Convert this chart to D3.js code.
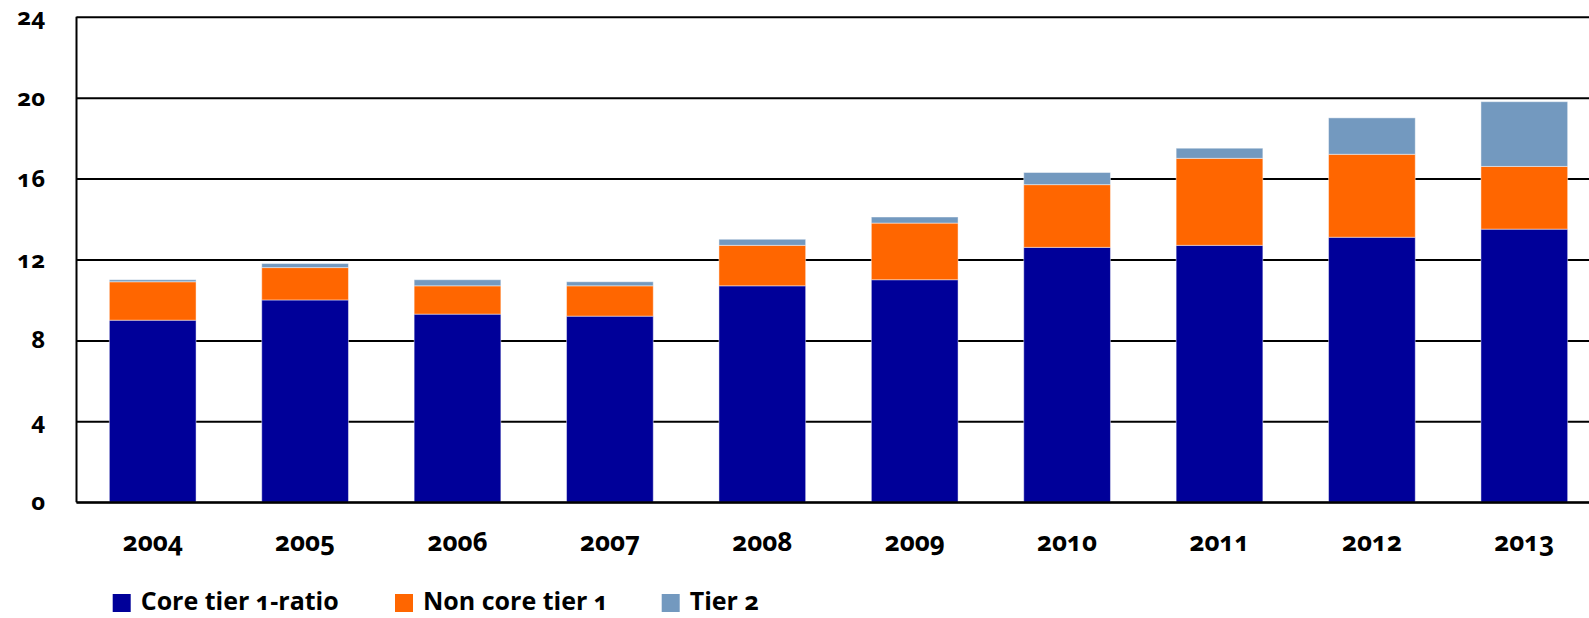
<!DOCTYPE html>
<html>
<head>
<meta charset="utf-8">
<script src="https://cdnjs.cloudflare.com/ajax/libs/d3/7.8.5/d3.min.js"></script>
<style>
  body{margin:0;background:#fff;overflow:hidden;}
  text{font-family:"Open Sans",sans-serif;font-weight:700;fill:#000;font-variant-numeric:oldstyle-nums;}
  .grid line{stroke:#000;stroke-width:2;}
  .grid .domain{display:none;}
</style>
</head>
<body>
<script>

var years = ['2004','2005','2006','2007','2008','2009','2010','2011','2012','2013'];
var coreTier1 = [9.0,10.0,9.3,9.2,10.7,11.0,12.6,12.7,13.1,13.5];
var nonCoreTier1 = [1.9,1.6,1.4,1.5,2.0,2.8,3.1,4.3,4.1,3.1];
var tier2 = [0.1,0.2,0.3,0.2,0.3,0.3,0.6,0.5,1.8,3.2];
var yTicks = [0,4,8,12,16,20,24];
var seriesNames = ['Core tier 1-ratio','Non core tier 1','Tier 2'];
var seriesColors = ['#000099','#ff6600','#7399bf'];

var W = 1589, H = 618;
var x0 = 76.5, x1 = 1600.5, yTop = 16.7, yBottom = 502.3;

var svg = d3.select('body').append('svg')
    .attr('width',W)
    .attr('height',H);

//set scale
var scaleX = d3.scaleBand()
    .domain(years)
    .range([x0,x1])
    .paddingInner(0.431)
    .paddingOuter(0.2155);

var scaleY = d3.scaleLinear()
    .domain([0,24])
    .range([yBottom,yTop]);

//gridlines
var axisGrid = d3.axisLeft()
    .scale(scaleY)
    .tickValues(yTicks)
    .tickSize(-(W - x0 + 5))
    .tickFormat('');

svg.append('g').attr('class','grid')
    .attr('transform','translate(' + x0 + ',0)')
    .call(axisGrid);

//stack data
var table = years.map(function(y,i){
    return {year:y, s0:coreTier1[i], s1:nonCoreTier1[i], s2:tier2[i]};
});
var stack = d3.stack().keys(['s0','s1','s2']);
var layers = stack(table);

svg.selectAll('.layer')
    .data(layers)
    .enter()
    .append('g')
    .attr('class','layer')
    .attr('fill',function(d,i){return seriesColors[i]})
    .selectAll('rect')
    .data(function(d){return d})
    .enter()
    .append('rect')
    .attr('x',function(d){return scaleX(d.data.year)})
    .attr('width',scaleX.bandwidth())
    .attr('y',function(d){return scaleY(d[1])})
    .attr('height',function(d){return scaleY(d[0]) - scaleY(d[1])})
    .attr('stroke','rgba(255,255,255,0.45)')
    .attr('stroke-width',1);

//axis lines
svg.append('line')
    .attr('x1',x0).attr('x2',x0)
    .attr('y1',scaleY(24)).attr('y2',scaleY(0))
    .attr('stroke','#000').attr('stroke-width',2);
svg.append('line')
    .attr('x1',x0).attr('x2',W)
    .attr('y1',scaleY(0)).attr('y2',scaleY(0))
    .attr('stroke','#000').attr('stroke-width',2);

//y labels
svg.selectAll('.ylab')
    .data(yTicks)
    .enter()
    .append('text')
    .attr('class','ylab')
    .attr('x',45)
    .attr('y',function(d){return scaleY(d) + 8})
    .attr('text-anchor','end')
    .style('font-size','24px')
    .text(function(d){return d});

//x labels
svg.selectAll('.xlab')
    .data(years)
    .enter()
    .append('text')
    .attr('class','xlab')
    .attr('x',function(d){return scaleX(d) + scaleX.bandwidth()/2})
    .attr('y',551)
    .attr('text-anchor','middle')
    .style('font-size','26px')
    .text(function(d){return d});

//legend
var legendX = [112.7,395,661.7];
var legend = svg.selectAll('.legend')
    .data(seriesNames)
    .enter()
    .append('g')
    .attr('class','legend')
    .attr('transform',function(d,i){return 'translate(' + legendX[i] + ',594)'});

legend.append('rect')
    .attr('width',18)
    .attr('height',18)
    .attr('fill',function(d,i){return seriesColors[i]});

legend.append('text')
    .attr('x',28)
    .attr('y',16)
    .style('font-size','25px')
    .text(function(d){return d});

</script>
</body>
</html>
